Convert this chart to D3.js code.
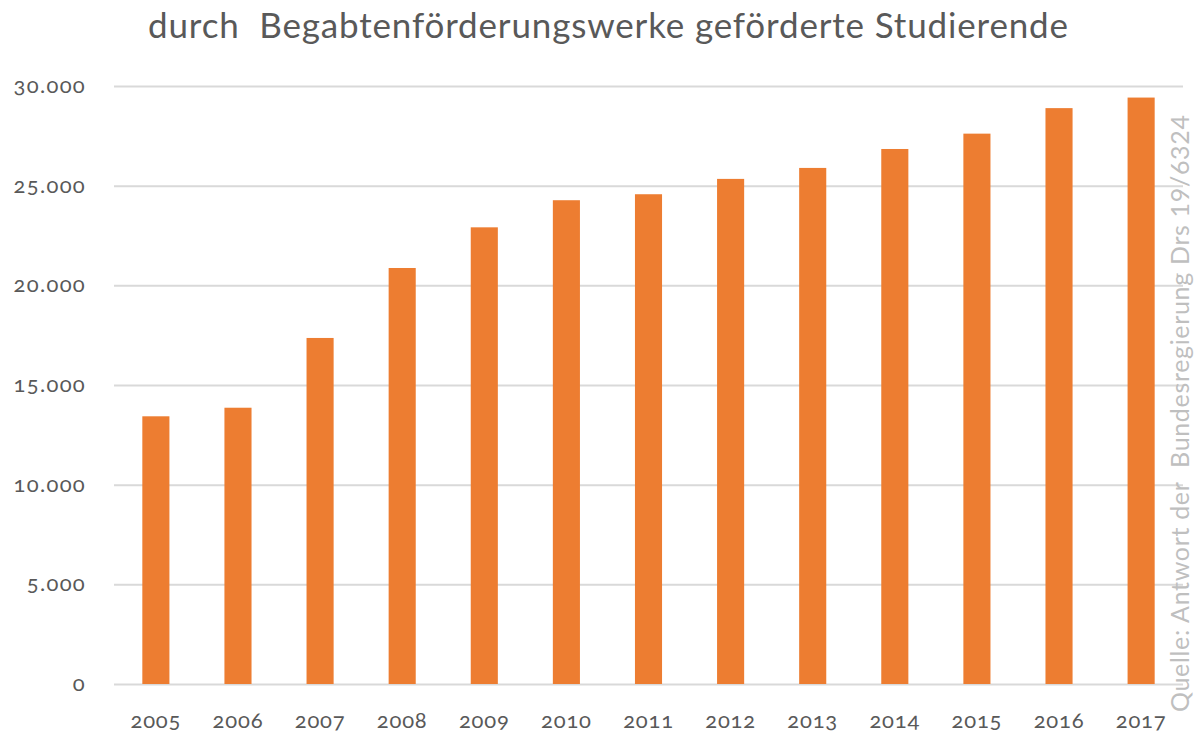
<!DOCTYPE html>
<html>
<head>
<meta charset="utf-8">
<script src="https://cdn.jsdelivr.net/npm/d3@7"></script>
<style>
  body { margin: 0; background: #fff; }
  text { font-family: Lato, "Open Sans", sans-serif; fill: #595959; }
  .ticks text { font-variant-numeric: oldstyle-nums; }
</style>
</head>
<body>
<svg id="chart" width="1195" height="734"></svg>
<script>
// Werte
var years = ["2005","2006","2007","2008","2009","2010","2011","2012","2013","2014","2015","2016","2017"];
var students = [13430, 13860, 17360, 20870, 22910, 24270, 24570, 25340, 25890, 26840, 27610, 28890, 29420];
var yTicks = [0, 5000, 10000, 15000, 20000, 25000, 30000];

var titleText = "durch  Begabtenförderungswerke geförderte Studierende";
var sourceText = "Quelle: Antwort der  Bundesregierung Drs 19/6324";

var svg = d3.select("#chart");
var orange = "#ED7D31";
var de = d3.formatLocale({decimal: ",", thousands: ".", grouping: [3], currency: ["", " €"]});
var fmt = de.format(",.0f");

var plotLeft = 114, plotRight = 1183, plotTop = 86, plotBottom = 684;

var x = d3.scaleBand()
    .domain(years)
    .range([plotLeft, plotRight])
    .paddingInner(0.67)
    .paddingOuter(0.345);

var y = d3.scaleLinear()
    .domain([0, 30000])
    .range([plotBottom, plotTop]);

// gridlines
svg.append("g")
    .selectAll("line")
    .data(yTicks)
    .enter()
    .append("line")
    .attr("x1", plotLeft)
    .attr("x2", plotRight)
    .attr("y1", function(d) { return y(d) + 0.5; })
    .attr("y2", function(d) { return y(d) + 0.5; })
    .style("stroke", "#d9d9d9")
    .style("stroke-width", 2);

// y tick labels
svg.append("g")
    .attr("class", "ticks")
    .selectAll("text")
    .data(yTicks)
    .enter()
    .append("text")
    .attr("x", 86)
    .attr("y", function(d) { return y(d); })
    .attr("dy", "0.32em")
    .style("text-anchor", "end")
    .style("font-size", "22px")
    .style("letter-spacing", "1.3px")
    .text(function(d) { return fmt(d); });

// bars
svg.append("g")
    .selectAll("rect")
    .data(students)
    .enter()
    .append("rect")
    .attr("x", function(d, i) { return x(years[i]); })
    .attr("width", x.bandwidth())
    .attr("y", function(d) { return y(d); })
    .attr("height", function(d) { return y(0) - y(d); })
    .style("fill", orange);

// x labels
svg.append("g")
    .attr("class", "ticks")
    .selectAll("text")
    .data(years)
    .enter()
    .append("text")
    .attr("x", function(d) { return x(d) + x.bandwidth() / 2; })
    .attr("y", 728)
    .style("text-anchor", "middle")
    .style("font-size", "22px")
    .style("letter-spacing", "0.8px")
    .text(function(d) { return d; });

// title
svg.append("text")
    .attr("x", 608)
    .attr("y", 38)
    .attr("textLength", 920)
    .style("text-anchor", "middle")
    .style("font-size", "35px")
    .style("white-space", "pre")
    .text(titleText);

// source, rotated
svg.append("text")
    .attr("transform", "translate(1189,712) rotate(-90)")
    .attr("textLength", 597)
    .style("text-anchor", "start")
    .style("font-size", "25px")
    .style("white-space", "pre")
    .style("fill", "#bfbfbf")
    .text(sourceText);
</script>
</body>
</html>
